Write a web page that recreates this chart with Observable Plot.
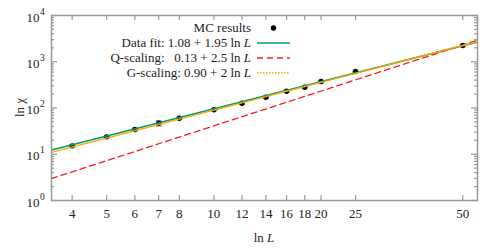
<!DOCTYPE html>
<html><head><meta charset="utf-8">
<script src="https://cdn.jsdelivr.net/npm/d3@7"></script>
<script src="https://cdn.jsdelivr.net/npm/@observablehq/plot@0.6"></script>
<style>
body{margin:0;background:#fff}
svg, svg text{font-family:"Liberation Serif",serif !important}
</style>
</head><body><div id="chart"></div>
<script>
// Monte Carlo data
const L = [4, 5, 6, 7, 8, 10, 12, 14, 16, 18, 20, 25, 50];
const chi = [15.2, 23.8, 34.3, 46.9, 60, 91.4, 127, 171, 231, 282, 374, 615, 2246];
const chiErr = [0.6, 1, 2, 6, 3, 4, 6, 7, 9, 10, 14, 18, 40];
// fitted / scaling lines (end points over the plotted range)
const lineL = [3.5, 55];
const fitChi = [12.4, 2673];
const qChi = [2.98, 2916];
const gChi = [11.0, 2722];
// ticks
const xTicks = [4, 5, 6, 7, 8, 10, 12, 14, 16, 18, 20, 25, 50];
const yTicks = [1, 10, 100, 1000, 10000];
const yExp = ["0", "1", "2", "3", "4"];
const yMinor = [2,3,4,5,6,7,8,9,20,30,40,50,60,70,80,90,200,300,400,500,600,700,800,900,2000,3000,4000,5000,6000,7000,8000,9000];
// legend
const legendLabels = ["MC results", "Data fit: 1.08 + 1.95 ln ", "Q-scaling:   0.13 + 2.5 ln ", "G-scaling: 0.90 + 2 ln "];
const legendItalic = ["", "L", "L", "L"];

const data = L.map((l, i) => ({L: l, chi: chi[i], lo: chi[i] - chiErr[i], hi: chi[i] + chiErr[i]}));
const lineData = (vals) => lineL.map((l, i) => ({L: l, chi: vals[i]}));
const yLab = yTicks.map((v, i) => ({v, e: yExp[i]}));

const W = 498, H = 249, mL = 51, mR = 21, mT = 15, mB = 49;
const innerH = H - mT - mB, innerW = W - mL - mR;
const axisColor = "#999";
const cGreen = "#009e73", cRed = "#ff1a1a", cOrange = "#ffa500";
const capSymbol = {draw(ctx) { ctx.moveTo(-3, 0); ctx.lineTo(3, 0); }};

const plot = Plot.plot({
  width: W, height: H,
  marginLeft: mL, marginRight: mR, marginTop: mT, marginBottom: mB,
  style: {fontFamily: '"Liberation Serif", serif', fontSize: "13px", background: "#fff", color: "#222"},
  x: {type: "log", domain: [3.5, 55], label: null, axis: null},
  y: {type: "log", domain: [1, 1e4], label: null, axis: null},
  marks: [
    // tick labels
    Plot.text(xTicks, {x: d => d, frameAnchor: "bottom", dy: 17, text: d => String(d), fontSize: 13, fill: "#222"}),
    Plot.text(yLab, {y: "v", frameAnchor: "left", dx: -12, dy: 2, textAnchor: "end", text: () => "10", fontSize: 13, fill: "#222"}),
    Plot.text(yLab, {y: "v", frameAnchor: "left", dx: -11.5, dy: -4, textAnchor: "start", text: "e", fontSize: 9.5, fill: "#222"}),
    // inward ticks
    Plot.tickX(xTicks, {x: d => d, insetTop: innerH - 5, stroke: axisColor, strokeWidth: 1.2}),
    Plot.tickX(xTicks, {x: d => d, insetBottom: innerH - 5, stroke: axisColor, strokeWidth: 1.2}),
    Plot.tickY(yTicks, {y: d => d, insetRight: innerW - 6, stroke: axisColor, strokeWidth: 1.2}),
    Plot.tickY(yTicks, {y: d => d, insetLeft: innerW - 6, stroke: axisColor, strokeWidth: 1.2}),
    Plot.tickY(yMinor, {y: d => d, insetRight: innerW - 3, stroke: axisColor, strokeWidth: 1.2}),
    Plot.tickY(yMinor, {y: d => d, insetLeft: innerW - 3, stroke: axisColor, strokeWidth: 1.2}),
    // error bars
    Plot.ruleX(data, {x: "L", y1: "lo", y2: "hi", stroke: "#888", strokeWidth: 1.2}),
    Plot.dot(data, {x: "L", y: "lo", symbol: capSymbol, stroke: "#888", strokeWidth: 1.2, r: 3}),
    Plot.dot(data, {x: "L", y: "hi", symbol: capSymbol, stroke: "#888", strokeWidth: 1.2, r: 3}),
    Plot.dot(data, {x: "L", y: "chi", r: 2.7, fill: "#000"}),
    // lines
    Plot.line(lineData(fitChi), {x: "L", y: "chi", stroke: cGreen, strokeWidth: 1.5, clip: true}),
    Plot.line(lineData(qChi), {x: "L", y: "chi", stroke: cRed, strokeWidth: 1.3, strokeDasharray: "6,4", clip: true}),
    Plot.line(lineData(gChi), {x: "L", y: "chi", stroke: cOrange, strokeWidth: 1.5, strokeDasharray: "1.5,1.5", clip: true}),
    Plot.frame({stroke: axisColor, strokeWidth: 1.5})
  ]
});
document.getElementById("chart").appendChild(plot);

const svg = d3.select(plot);

// axis titles
const xt = svg.append("text").attr("x", mL + innerW / 2).attr("y", 242).attr("text-anchor", "middle")
  .attr("font-size", 13).attr("fill", "#222");
xt.append("tspan").text("ln ");
xt.append("tspan").attr("font-style", "italic").text("L");
svg.append("text").attr("transform", `translate(24,${mT + innerH / 2}) rotate(-90)`)
  .attr("text-anchor", "middle").attr("font-size", 13).attr("fill", "#222").text("ln χ");

// legend
const rowsY = [28, 43, 58, 72.7];
const textRight = 251, sx1 = 257, sx2 = 290;
const lg = svg.append("g");
legendLabels.forEach((lab, i) => {
  const t = lg.append("text").attr("x", textRight).attr("y", rowsY[i] + 4.3)
    .attr("text-anchor", "end").attr("font-size", 13).attr("fill", "#222")
    .style("white-space", "pre").attr("xml:space", "preserve");
  t.append("tspan").text(lab);
  if (legendItalic[i]) t.append("tspan").attr("font-style", "italic").text(legendItalic[i]);
});
lg.append("circle").attr("cx", (sx1 + sx2) / 2).attr("cy", rowsY[0]).attr("r", 2.7).attr("fill", "#000");
lg.append("line").attr("x1", sx1).attr("x2", sx2).attr("y1", rowsY[1]).attr("y2", rowsY[1]).attr("stroke", cGreen).attr("stroke-width", 1.5);
lg.append("line").attr("x1", sx1).attr("x2", sx2).attr("y1", rowsY[2]).attr("y2", rowsY[2]).attr("stroke", cRed).attr("stroke-width", 1.3).attr("stroke-dasharray", "6,4");
lg.append("line").attr("x1", sx1).attr("x2", sx2).attr("y1", rowsY[3]).attr("y2", rowsY[3]).attr("stroke", cOrange).attr("stroke-width", 1.5).attr("stroke-dasharray", "1.5,1.5");
</script>
</body></html>
